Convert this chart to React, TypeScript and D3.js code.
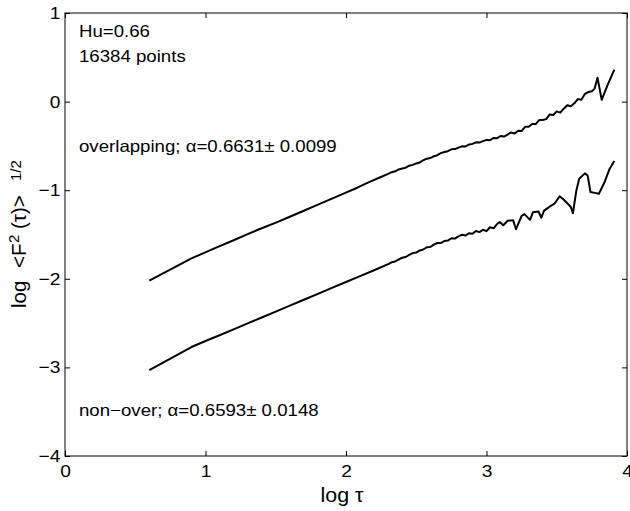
import React, { useEffect, useRef } from 'react';
import * as d3 from 'd3';

// axis ticks
const xTicks = [0, 1, 2, 3, 4];
const yTicks = [-4, -3, -2, -1, 0, 1];

// text in the plot
const infoLines = ['Hu=0.66', '16384 points'];
const overlapLabel = 'overlapping; \u03b1=0.6631\u00b1 0.0099';
const nonOverLabel = 'non\u2212over; \u03b1=0.6593\u00b1 0.0148';

// log tau vs log <F^2>^(1/2), overlapping windows
const overlapping: [number, number][] = [
    [0.6, -2.02], [0.9, -1.77], [1.08, -1.645], [1.2, -1.565], [1.3, -1.495],
    [1.4, -1.43], [1.51, -1.36], [1.6, -1.3], [1.7, -1.232], [1.8, -1.163],
    [1.9, -1.095], [2.0, -1.028], [2.08, -0.972], [2.16, -0.912], [2.24, -0.857],
    [2.3, -0.815], [2.325, -0.797], [2.35, -0.787], [2.375, -0.766], [2.4, -0.756],
    [2.425, -0.746], [2.45, -0.723], [2.475, -0.714], [2.5, -0.698], [2.525, -0.687],
    [2.55, -0.662], [2.575, -0.644], [2.6, -0.637], [2.625, -0.617], [2.65, -0.605],
    [2.675, -0.581], [2.7, -0.568], [2.725, -0.56], [2.75, -0.539], [2.775, -0.536],
    [2.8, -0.519], [2.825, -0.505], [2.85, -0.506], [2.875, -0.485], [2.9, -0.477],
    [2.925, -0.46], [2.95, -0.463], [2.975, -0.446], [3.0, -0.432], [3.025, -0.436],
    [3.05, -0.41], [3.075, -0.414], [3.1, -0.388], [3.125, -0.395], [3.15, -0.372],
    [3.175, -0.348], [3.2, -0.36], [3.225, -0.329], [3.25, -0.332], [3.275, -0.285],
    [3.3, -0.285], [3.325, -0.252], [3.35, -0.254], [3.375, -0.208], [3.4, -0.208],
    [3.425, -0.198], [3.45, -0.145], [3.475, -0.151], [3.5, -0.11], [3.525, -0.125],
    [3.55, -0.08], [3.575, -0.041], [3.6, -0.052], [3.625, -0.019], [3.65, 0.028],
    [3.675, 0.02], [3.7, 0.086], [3.725, 0.108], [3.75, 0.116], [3.77, 0.15],
    [3.79, 0.27], [3.82, 0.02], [3.86, 0.18], [3.91, 0.36]
];

// non-overlapping windows
const nonOverlapping: [number, number][] = [
    [0.6, -3.03], [0.9, -2.77], [1.0, -2.702], [1.1, -2.637], [1.2, -2.57],
    [1.3, -2.503], [1.4, -2.437], [1.5, -2.37], [1.6, -2.303], [1.7, -2.237],
    [1.8, -2.17], [1.9, -2.103], [2.0, -2.036], [2.1, -1.97], [2.2, -1.903],
    [2.3, -1.835], [2.325, -1.814], [2.35, -1.804], [2.375, -1.782], [2.4, -1.762],
    [2.425, -1.754], [2.45, -1.731], [2.475, -1.709], [2.5, -1.704], [2.525, -1.68],
    [2.55, -1.669], [2.575, -1.644], [2.6, -1.641], [2.625, -1.615], [2.65, -1.596],
    [2.675, -1.597], [2.7, -1.574], [2.725, -1.569], [2.75, -1.542], [2.775, -1.546],
    [2.8, -1.521], [2.825, -1.504], [2.85, -1.512], [2.875, -1.486], [2.9, -1.492],
    [2.925, -1.461], [2.95, -1.473], [2.975, -1.446], [3.0, -1.462], [3.025, -1.418],
    [3.05, -1.43], [3.075, -1.382], [3.094, -1.36], [3.12, -1.395], [3.15, -1.345],
    [3.19, -1.34], [3.21, -1.44], [3.25, -1.29], [3.27, -1.27], [3.31, -1.335],
    [3.33, -1.25], [3.37, -1.24], [3.39, -1.31], [3.41, -1.23], [3.45, -1.185],
    [3.485, -1.15], [3.52, -1.07], [3.545, -1.1], [3.58, -1.155], [3.6, -1.19],
    [3.615, -1.26], [3.64, -1.0], [3.66, -0.87], [3.7, -0.81], [3.72, -0.835],
    [3.74, -1.02], [3.77, -1.03], [3.8, -1.04], [3.84, -0.91], [3.876, -0.76],
    [3.91, -0.67]
];

const FONT = '"Liberation Sans", Arial, Helvetica, sans-serif';
const STRETCH = 1.13;

export default function App() {
    const svgRef = useRef<SVGSVGElement>(null);

    useEffect(() => {
        const width = 630;
        const height = 511;
        const margin = { top: 13, right: 3, bottom: 55, left: 65 };

        const root = d3.select(svgRef.current);
        root.selectAll('*').remove();
        root.attr('width', width).attr('height', height);

        const x = d3
            .scaleLinear()
            .domain([0, 4])
            .range([margin.left, width - margin.right]);
        const y = d3
            .scaleLinear()
            .domain([-4, 1])
            .range([height - margin.bottom, margin.top]);

        const styleAxis = (g: any) => {
            g.select('.domain').remove();
            g.selectAll('line').attr('stroke', '#000');
            g.attr('font-family', FONT).attr('font-size', 17);
            g.selectAll('text').attr('fill', '#000');
        };

        root
            .append('g')
            .attr('transform', `translate(0,${y(-4)})`)
            .call(
                d3.axisBottom(x).tickValues(xTicks).tickSizeInner(-5).tickSizeOuter(0)
                    .tickPadding(9).tickFormat(d3.format('d'))
            )
            .call(styleAxis)
            .selectAll('text')
            .attr('transform', `scale(${STRETCH},1)`);

        root
            .append('g')
            .attr('transform', `translate(${x(0)},0)`)
            .call(
                d3.axisLeft(y).tickValues(yTicks).tickSizeInner(-5).tickSizeOuter(0)
                    .tickPadding(4).tickFormat(d3.format('d'))
            )
            .call(styleAxis)
            .selectAll('text')
            .attr('transform', `scale(${STRETCH},1)`);

        root
            .append('g')
            .attr('transform', `translate(0,${y(1)})`)
            .call(d3.axisTop(x).tickValues(xTicks).tickSizeInner(-5).tickSizeOuter(0).tickFormat(() => ''))
            .call(styleAxis);

        root
            .append('g')
            .attr('transform', `translate(${x(4)},0)`)
            .call(d3.axisRight(y).tickValues(yTicks).tickSizeInner(-5).tickSizeOuter(0).tickFormat(() => ''))
            .call(styleAxis);

        root
            .append('rect')
            .attr('x', x(0))
            .attr('y', y(1))
            .attr('width', x(4) - x(0))
            .attr('height', y(-4) - y(1))
            .attr('fill', 'none')
            .attr('stroke', '#000')
            .attr('stroke-width', 1);

        const line = d3
            .line<[number, number]>()
            .x(d => x(d[0]))
            .y(d => y(d[1]));

        [overlapping, nonOverlapping].forEach(series => {
            root
                .append('path')
                .datum(series)
                .attr('d', line)
                .attr('fill', 'none')
                .attr('stroke', '#000')
                .attr('stroke-width', 2)
                .attr('stroke-linejoin', 'round');
        });

        const note = (txt: string, px: number, py: number) => {
            root
                .append('text')
                .attr('transform', `translate(${px},${py}) scale(${STRETCH},1)`)
                .attr('font-family', FONT)
                .attr('font-size', 16.5)
                .attr('fill', '#000')
                .text(txt);
        };

        note(infoLines[0], 79, 37);
        note(infoLines[1], 79, 62);
        note(overlapLabel, 79, 152);
        note(nonOverLabel, 79, 416);

        // x label
        root
            .append('text')
            .attr('transform', `translate(${(x(0) + x(4)) / 2 - 4},502) scale(1.1,1)`)
            .attr('text-anchor', 'middle')
            .attr('font-family', FONT)
            .attr('font-size', 19.5)
            .attr('fill', '#000')
            .text('log \u03c4');

        // y label
        const yl = root
            .append('text')
            .attr('transform', 'translate(26,308) rotate(-90)')
            .attr('font-family', FONT)
            .attr('font-size', 20.5)
            .attr('fill', '#000');
        yl.append('tspan').attr('x', 0).attr('y', 0).text('log');
        yl.append('tspan').attr('x', 40).attr('y', 0).text('<F');
        yl.append('tspan').attr('x', 65).attr('y', -7).attr('font-size', 15).text('2');
        yl.append('tspan').attr('x', 79).attr('y', 0).text('(\u03c4)>');
        yl.append('tspan').attr('x', 127).attr('y', -5).attr('font-size', 15).text('1/2');
    }, []);

    return (
        <svg
            ref={svgRef}
            style={{ position: 'absolute', left: 0, top: 0, background: '#fff' }}
        />
    );
}
